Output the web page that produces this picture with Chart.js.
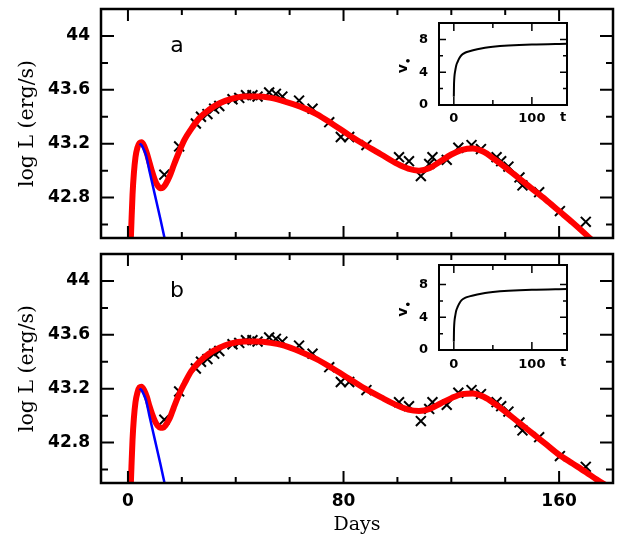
<!DOCTYPE html>
<html>
<head>
<meta charset="utf-8">
<title>log L vs Days</title>
<script src="https://cdn.jsdelivr.net/npm/chart.js@4.4.1/dist/chart.umd.min.js"></script>
<style>
  body { margin: 0; background: #fff; }
  #fig { position: relative; width: 628px; height: 539px; }
  #fig canvas { position: absolute; }
</style>
</head>
<body>
<div id="fig">
  <canvas id="mainA" width="628" height="250" style="left:0;top:0"></canvas>
  <canvas id="mainB" width="628" height="294" style="left:0;top:245px"></canvas>
  <canvas id="insetA" width="180" height="115" style="left:395px;top:15px"></canvas>
  <canvas id="insetB" width="180" height="115" style="left:395px;top:257px"></canvas>
</div>
<script>
// Observed points (same data in both panels)
const obsDays = [13.5, 19.0, 25.2, 27.1, 29.5, 32.0, 33.9, 38.8, 41.3, 43.8, 46.2, 48.1, 52.4, 54.9, 57.3,
  63.5, 68.5, 74.7, 79.0, 82.1, 88.5, 100.6, 104.3, 108.7, 111.8, 113.0, 118.3, 122.6, 127.5, 131.0,
  136.8, 138.5, 141.2, 145.3, 146.4, 152.6, 160.3, 169.9];
const obsLogL = [42.97, 43.18, 43.35, 43.40, 43.42, 43.46, 43.48, 43.53, 43.54, 43.56, 43.56, 43.55, 43.58, 43.57, 43.55,
  43.52, 43.46, 43.36, 43.25, 43.25, 43.19, 43.10, 43.07, 42.96, 43.05, 43.10, 43.08, 43.17, 43.19, 43.16,
  43.10, 43.07, 43.03, 42.95, 42.89, 42.84, 42.70, 42.62];

// Model curves (red), panel a and panel b
const modelDays = [0.9, 1.3, 1.7, 2.2, 2.8, 3.5, 4.3, 5.0, 6.0, 7.0, 8.0, 9.0, 10, 11, 12, 13, 14, 15.5, 17, 19,
  21, 23.5, 26.5, 30, 34, 38, 43, 48, 53, 58, 64, 70, 76, 82, 88, 94, 100, 104, 108, 112,
  116, 120, 124, 128, 132, 136, 140, 145, 150, 155, 160, 165, 170, 174, 178];
const redLogLA = [42.40, 42.62, 42.82, 42.98, 43.10, 43.17, 43.205, 43.21, 43.185, 43.13, 43.06, 42.99, 42.93, 42.89, 42.87, 42.875, 42.90, 42.96, 43.04, 43.14,
  43.23, 43.31, 43.39, 43.45, 43.50, 43.53, 43.55, 43.55, 43.54, 43.515, 43.475, 43.42, 43.345, 43.265, 43.19, 43.12, 43.05, 43.015, 43.0, 43.02,
  43.07, 43.12, 43.155, 43.165, 43.14, 43.085, 43.025, 42.945, 42.865, 42.785, 42.70, 42.615, 42.525, 42.45, 42.38];
const redLogLB = [42.40, 42.62, 42.82, 42.98, 43.10, 43.17, 43.21, 43.215, 43.19, 43.14, 43.07, 43.01, 42.96, 42.925, 42.91, 42.91, 42.93, 42.98, 43.06, 43.16,
  43.24, 43.33, 43.40, 43.46, 43.505, 43.535, 43.55, 43.55, 43.54, 43.52, 43.475, 43.42, 43.35, 43.275, 43.20, 43.135, 43.075, 43.045, 43.035, 43.05,
  43.09, 43.13, 43.16, 43.165, 43.14, 43.09, 43.03, 42.95, 42.87, 42.79, 42.71, 42.645, 42.58, 42.525, 42.475];

// Early peak only (blue), visible from its maximum on
const blueDays = [4.3, 5.0, 5.8, 6.7, 8, 10, 12, 14];
const blueLogL = [43.20, 43.19, 43.16, 43.115, 42.995, 42.82, 42.645, 42.46];

// Inset v(t)
const insetT = [0, 0.2, 0.5, 1, 2, 3, 5, 7, 10, 15, 20, 30, 40, 50, 70, 100, 145];
const insetV = [1.0, 2.4, 3.1, 3.7, 4.3, 4.8, 5.3, 5.7, 6.1, 6.4, 6.56, 6.8, 6.98, 7.1, 7.25, 7.38, 7.47];

// Ticks
const xTicks = [0, 80, 160];
const xMinor = [20, 40, 60, 100, 120, 140];
const yTicks = [42.8, 43.2, 43.6, 44];
const yMinor = [42.6, 43.0, 43.4, 43.8];
const insetXTicks = [0, 100];
const insetXMinor = [50];
const insetYTicks = [0, 4, 8];
const insetYMinor = [2, 6];

Chart.defaults.color = '#000';
const tickFont = { family: 'DejaVu Sans', size: 17, weight: 'bold' };
const titleFont = { family: 'DejaVu Serif', size: 19 };
const yTitleFont = { family: 'DejaVu Serif', size: 20.5 };
const insetFont = { family: 'DejaVu Sans', size: 13, weight: 'bold' };

const pts = (xs, ys) => xs.map((x, i) => ({ x: x, y: ys[i] }));
const setTicks = vals => s => { s.ticks = vals.map(v => ({ value: v })); };
// fixed axis size, and no extra label padding pushed into the layout
const fixX = h => s => { s.height = h; s.paddingLeft = 0; s.paddingRight = 0; };
const fixY = w => s => { s.width = w; s.paddingTop = 0; s.paddingBottom = 0; };

// frame box, inward ticks on all four sides, and loose text
const frameTicks = {
  id: 'frameTicks',
  afterDatasetsDraw(chart, args, o) {
    const { ctx, chartArea: a, scales: { x, y } } = chart;
    ctx.save();
    ctx.strokeStyle = '#000';
    ctx.lineWidth = o.tickWidth;
    ctx.beginPath();
    const xMark = (vals, len) => vals.forEach(v => {
      const px = x.getPixelForValue(v);
      ctx.moveTo(px, a.bottom); ctx.lineTo(px, a.bottom - len);
      ctx.moveTo(px, a.top); ctx.lineTo(px, a.top + len);
    });
    const yMark = (vals, len) => vals.forEach(v => {
      const py = y.getPixelForValue(v);
      ctx.moveTo(a.left, py); ctx.lineTo(a.left + len, py);
      ctx.moveTo(a.right, py); ctx.lineTo(a.right - len, py);
    });
    xMark(o.xMajor, o.xMajorLen); xMark(o.xMinor, o.xMinorLen);
    yMark(o.yMajor, o.yMajorLen); yMark(o.yMinor, o.yMinorLen);
    ctx.stroke();
    ctx.lineWidth = o.frameWidth;
    ctx.strokeRect(a.left, a.top, a.right - a.left, a.bottom - a.top);

    ctx.fillStyle = '#000';
    if (o.panel) {
      ctx.font = '22px "DejaVu Sans"';
      ctx.textAlign = 'center';
      ctx.textBaseline = 'alphabetic';
      ctx.fillText(o.panel, a.left + 76, a.top + 43);
    }
    if (o.inset) {
      ctx.font = 'bold 13px "DejaVu Sans"';
      ctx.textAlign = 'center';
      ctx.textBaseline = 'middle';
      ctx.fillText('t', a.right - 4, a.bottom + 13);
      ctx.save();
      ctx.translate(a.left - 32, (a.top + a.bottom) / 2);
      ctx.rotate(-Math.PI / 2);
      ctx.font = 'bold 14px "DejaVu Sans"';
      ctx.textAlign = 'right';
      ctx.textBaseline = 'alphabetic';
      ctx.fillText('v', 0, 0);
      ctx.font = 'bold 10px "DejaVu Sans"';
      ctx.textAlign = 'left';
      ctx.textBaseline = 'middle';
      ctx.fillText('•', 0, 2);
      ctx.restore();
    }
    ctx.restore();
  }
};

function makeMain(id, redLogL, panel, showDays) {
  return new Chart(document.getElementById(id), {
    type: 'line',
    data: {
      datasets: [
        { data: pts(blueDays, blueLogL), borderColor: '#0000ff', borderWidth: 2.5, pointRadius: 0,
          cubicInterpolationMode: 'monotone', clip: 0 },
        { data: pts(modelDays, redLogL), borderColor: '#ff0000', borderWidth: 6, pointRadius: 0,
          cubicInterpolationMode: 'monotone', clip: 0 },
        { data: pts(obsDays, obsLogL), showLine: false, pointStyle: 'crossRot', pointRadius: 7,
          pointBorderColor: '#000', pointBorderWidth: 2, borderColor: '#000', clip: 0 }
      ]
    },
    options: {
      responsive: false,
      animation: false,
      devicePixelRatio: 1,
      layout: { padding: { top: 5, right: 15, bottom: showDays ? 0 : 12, left: 0 } },
      plugins: {
        legend: { display: false },
        tooltip: { enabled: false },
        frameTicks: {
          xMajor: xTicks, xMinor: xMinor, yMajor: yTicks, yMinor: yMinor,
          xMajorLen: 12, xMinorLen: 6, yMajorLen: 13, yMinorLen: 7,
          tickWidth: 2, frameWidth: 2.5, panel: panel
        }
      },
      scales: {
        x: {
          type: 'linear', min: -10, max: 180,
          grid: { display: false, drawTicks: false }, border: { display: false },
          afterBuildTicks: setTicks(xTicks),
          afterFit: fixX(showDays ? 56 : 0),
          ticks: { display: showDays, padding: 8, maxRotation: 0, autoSkip: false, font: tickFont },
          title: { display: showDays, text: 'Days', font: titleFont, padding: { top: 0, bottom: 3 } }
        },
        y: {
          type: 'linear', min: 42.5, max: 44.2,
          grid: { display: false, drawTicks: false }, border: { display: false },
          afterBuildTicks: setTicks(yTicks),
          afterFit: fixY(101),
          ticks: { padding: 11, autoSkip: false, font: tickFont, callback: v => String(v) },
          title: { display: true, text: 'log L (erg/s)', font: yTitleFont, padding: { top: 15, bottom: 0 } }
        }
      }
    },
    plugins: [frameTicks]
  });
}

function makeInset(id, yMax, xAxisH, labelPad) {
  return new Chart(document.getElementById(id), {
    type: 'line',
    data: {
      datasets: [{ data: pts(insetT, insetV), borderColor: '#000', borderWidth: 2, pointRadius: 0,
        cubicInterpolationMode: 'monotone', clip: 0 }]
    },
    options: {
      responsive: false,
      animation: false,
      devicePixelRatio: 1,
      layout: { padding: { top: 8, right: 8, bottom: 0, left: 0 } },
      plugins: {
        legend: { display: false },
        tooltip: { enabled: false },
        frameTicks: {
          xMajor: insetXTicks, xMinor: insetXMinor, yMajor: insetYTicks, yMinor: insetYMinor,
          xMajorLen: 8, xMinorLen: 5, yMajorLen: 7, yMinorLen: 4,
          tickWidth: 1.5, frameWidth: 2, inset: true
        }
      },
      scales: {
        x: {
          type: 'linear', min: -19, max: 145,
          grid: { display: false, drawTicks: false }, border: { display: false },
          afterBuildTicks: setTicks(insetXTicks),
          afterFit: fixX(xAxisH),
          ticks: { padding: labelPad, maxRotation: 0, autoSkip: false, font: insetFont }
        },
        y: {
          type: 'linear', min: 0, max: yMax,
          grid: { display: false, drawTicks: false }, border: { display: false },
          afterBuildTicks: setTicks(insetYTicks),
          afterFit: fixY(44),
          ticks: { padding: 11, autoSkip: false, font: insetFont }
        }
      }
    },
    plugins: [frameTicks]
  });
}

makeMain('mainA', redLogLA, 'a', false);
makeMain('mainB', redLogLB, 'b', true);
makeInset('insetA', 10, 25, 6);
makeInset('insetB', 10.4, 22, 7);
</script>
</body>
</html>
